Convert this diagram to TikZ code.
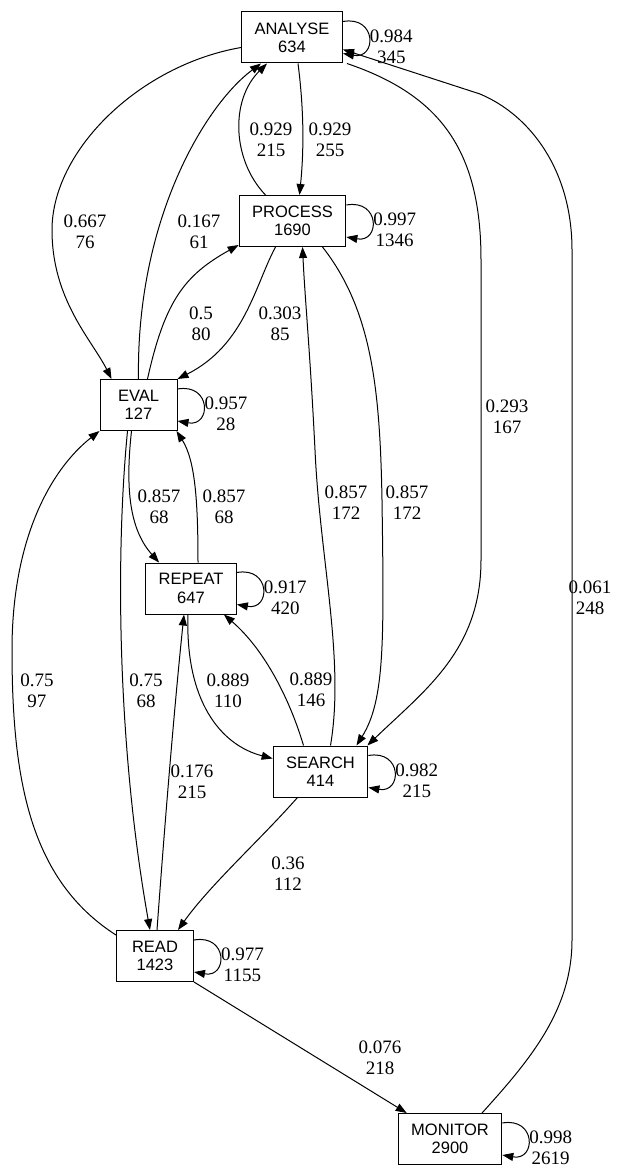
\documentclass[tikz,border=0pt]{standalone}
\usepackage{fontspec}
\setmainfont{Liberation Serif}
\setsansfont{Liberation Sans}
\usetikzlibrary{arrows.meta,positioning,calc}

\begin{document}
\begin{tikzpicture}[
    x=1pt, y=-1pt,
    box/.style={draw, line width=1pt, minimum width=77pt, minimum height=51pt,
                inner xsep=13pt, align=center,
                font=\sffamily\fontsize{16.5pt}{18.3pt}\selectfont},
    arr/.style={-{Triangle[length=11pt,width=8pt]}, line width=1pt},
    lbl/.style={font=\fontsize{19pt}{20.7pt}\selectfont, align=center, inner sep=1pt},
    looplbl/.style={lbl, pos=0.5, anchor=west, yshift=-9pt}
  ]
    \useasboundingbox (0,0) rectangle (620,1169);

    % Activities
    \node[box] (analyse) at (292,37.5)   {ANALYSE\\634};
    \node[box] (process) at (292.5,221)  {PROCESS\\1690};
    \node[box] (eval)    at (138.5,405)  {EVAL\\127};
    \node[box] (repeat)  at (191,588.5)  {REPEAT\\647};
    \node[box] (search)  at (320.5,771.5) {SEARCH\\414};
    \node[box] (read)    at (155,956)    {READ\\1423};
    \node[box] (monitor) at (450,1139)   {MONITOR\\2900};

    % Self loops
    \draw[arr] ($(analyse.east)+(0,-16)$) .. controls +(34,-6) and +(34,6) .. ($(analyse.east)+(0,16)$) node[looplbl] {0.984\\345};
    \draw[arr] ($(process.east)+(0,-16)$) .. controls +(34,-6) and +(34,6) .. ($(process.east)+(0,16)$) node[looplbl] {0.997\\1346};
    \draw[arr] ($(eval.east)+(0,-16)$) .. controls +(34,-6) and +(34,6) .. ($(eval.east)+(0,16)$) node[looplbl] {0.957\\28};
    \draw[arr] ($(repeat.east)+(0,-16)$) .. controls +(34,-6) and +(34,6) .. ($(repeat.east)+(0,16)$) node[looplbl] {0.917\\420};
    \draw[arr] ($(search.east)+(0,-16)$) .. controls +(34,-6) and +(34,6) .. ($(search.east)+(0,16)$) node[looplbl] {0.982\\215};
    \draw[arr] ($(read.east)+(0,-16)$) .. controls +(34,-6) and +(34,6) .. ($(read.east)+(0,16)$) node[looplbl] {0.977\\1155};
    \draw[arr] ($(monitor.east)+(0,-16)$) .. controls +(34,-6) and +(34,6) .. ($(monitor.east)+(0,16)$) node[looplbl] {0.998\\2619};

    % Transitions
    \draw[arr] ($(analyse.west)+(0,10)$) .. controls (140,65) and (52,150) .. (52,230)
      .. controls (52,300) and (92,340) .. ($(eval.north west)+(12,0)$) node[lbl] at (85,232) {0.667\\76};
    \draw[arr] (eval.north) .. controls (136,220) and (205,105) .. ($(analyse.south)+(-31,0)$) node[lbl] at (199,232) {0.167\\61};
    \draw[arr] ($(process.north)+(-27,0)$) .. controls (232,160) and (230,100) .. ($(analyse.south)+(-25,0)$) node[lbl] at (271,140) {0.929\\215};
    \draw[arr] ($(analyse.south)+(6,0)$) .. controls (304,110) and (304,150) .. ($(process.north)+(7,0)$) node[lbl] at (330,140) {0.929\\255};
    \draw[arr] ($(eval.north)+(9,0)$) .. controls (165,300) and (185,275) .. ($(process.south west)+(0,-2)$) node[lbl] at (201,324) {0.5\\80};
    \draw[arr] ($(process.south)+(-17,0)$) .. controls (255,285) and (245,345) .. (eval.north east) node[lbl] at (280,324) {0.303\\85};
    \draw[arr] ($(process.south)+(30,0)$) .. controls (372,310) and (380,390) .. (382,500)
      .. controls (384,640) and (385,700) .. ($(search.north)+(36,0)$) node[lbl] at (407,503) {0.857\\172};
    \draw[arr] ($(search.north)+(10,0)$) .. controls (345,660) and (320,560) .. (315,450)
      .. controls (310,350) and (305,300) .. ($(process.south)+(10,0)$) node[lbl] at (346,503) {0.857\\172};
    \draw[arr] ($(analyse.south east)+(4,0)$) .. controls (440,95) and (481,150) .. (481,260) -- (481,560)
      .. controls (481,650) and (425,690) .. ($(search.north east)+(-1,0)$) node[lbl] at (507,417) {0.293\\167};
    \draw[arr] ($(monitor.north)+(32,0)$) .. controls (530,1060) and (572,1010) .. (572,940) -- (572,250)
      .. controls (572,170) and (530,115) .. (480,94) -- ($(analyse.east)+(0,12)$) node[lbl] at (590,598) {0.061\\248};
    \draw[arr] ($(eval.south)+(-7,0)$) .. controls (125,490) and (130,530) .. ($(repeat.north west)+(14,0)$) node[lbl] at (159,507) {0.857\\68};
    \draw[arr] ($(repeat.north)+(7,0)$) .. controls (198,500) and (195,460) .. ($(eval.south east)+(-1,0)$) node[lbl] at (224,507) {0.857\\68};
    \draw[arr] ($(eval.south)+(-11,0)$) .. controls (115,560) and (118,750) .. ($(read.north)+(-5,0)$) node[lbl] at (146,691) {0.75\\68};
    \draw[arr] ($(read.north west)+(0,5)$) .. controls (30,880) and (12,780) .. (12,650)
      .. controls (12,540) and (50,470) .. (eval.south west) node[lbl] at (37,691) {0.75\\97};
    \draw[arr] ($(repeat.south)+(-3,0)$) .. controls (185,700) and (220,745) .. ($(search.west)+(0,-13)$) node[lbl] at (228,691) {0.889\\110};
    \draw[arr] ($(search.north)+(-17,0)$) .. controls (290,700) and (265,650) .. ($(repeat.south east)+(-13,0)$) node[lbl] at (311,690) {0.889\\146};
    \draw[arr] ($(read.north)+(2,0)$) .. controls (165,820) and (175,700) .. ($(repeat.south)+(-7,0)$) node[lbl] at (192,782) {0.176\\215};
    \draw[arr] ($(search.south)+(-23,0)$) .. controls (260,840) and (210,885) .. ($(read.north east)+(-16,0)$) node[lbl] at (288,874) {0.36\\112};
    \draw[arr] (read.south east) -- ($(monitor.north west)+(9,0)$) node[lbl] at (380,1058) {0.076\\218};
  \end{tikzpicture}
\end{document}
